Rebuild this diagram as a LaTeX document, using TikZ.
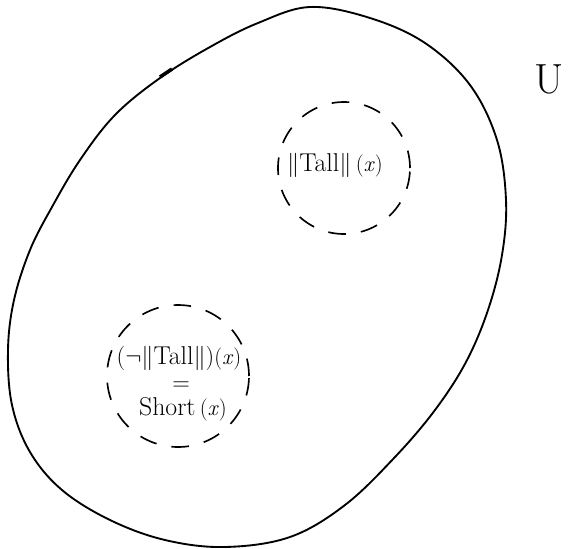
\documentclass[tikz,border=0pt]{standalone}
\usepackage{amsmath,amssymb}
\usetikzlibrary{positioning}
\newcommand{\argx}{{\fontsize{19}{21}\selectfont(\textit{x})}}

\begin{document}
\begin{tikzpicture}[x=0.03cm,y=-0.03cm,
  setline/.style={line width=1.6pt,line join=round},
  dashring/.style={draw,circle,line width=1.4pt,dash pattern=on 15pt off 13pt,inner sep=0pt},
  lbl/.style={font=\fontsize{22}{25}\selectfont,inner sep=1pt}]
\useasboundingbox (0,0) rectangle (579,548);
% the universe
\draw[setline] plot[smooth cycle,tension=0.6] coordinates {
  (310,7) (370,18) (425,43) (470,85) (497,140) (506,200) (502,255)
  (488,310) (466,362) (435,410) (395,457) (345,505) (290,537) (225,547)
  (165,540) (110,520) (62,490) (30,452) (12,405) (8,350) (14,300)
  (30,250) (52,207) (80,160) (115,115) (160,78) (210,47) (258,23)};
\draw[line width=3pt] (160,77) -- (172,69);
% the two sets
\node[dashring,minimum size=3.96cm] (tallset) at (344,168) {};
\node[dashring,minimum size=4.26cm] (shortset) at (178,376) {};
\node[lbl] (tall) at (335,165) {$\lVert$Tall$\rVert$\,\argx};
\node[lbl] (neg) at (179,358) {$(\neg\lVert$Tall$\rVert)$\argx};
\node[lbl] (eq) at (181,386) {$=$};
\node[lbl] (short) at (183,409) {Short\,\argx};
\node[font=\fontsize{36}{40}\selectfont,inner sep=0pt] (univ) at (549,79) {U};
\end{tikzpicture}
\end{document}
